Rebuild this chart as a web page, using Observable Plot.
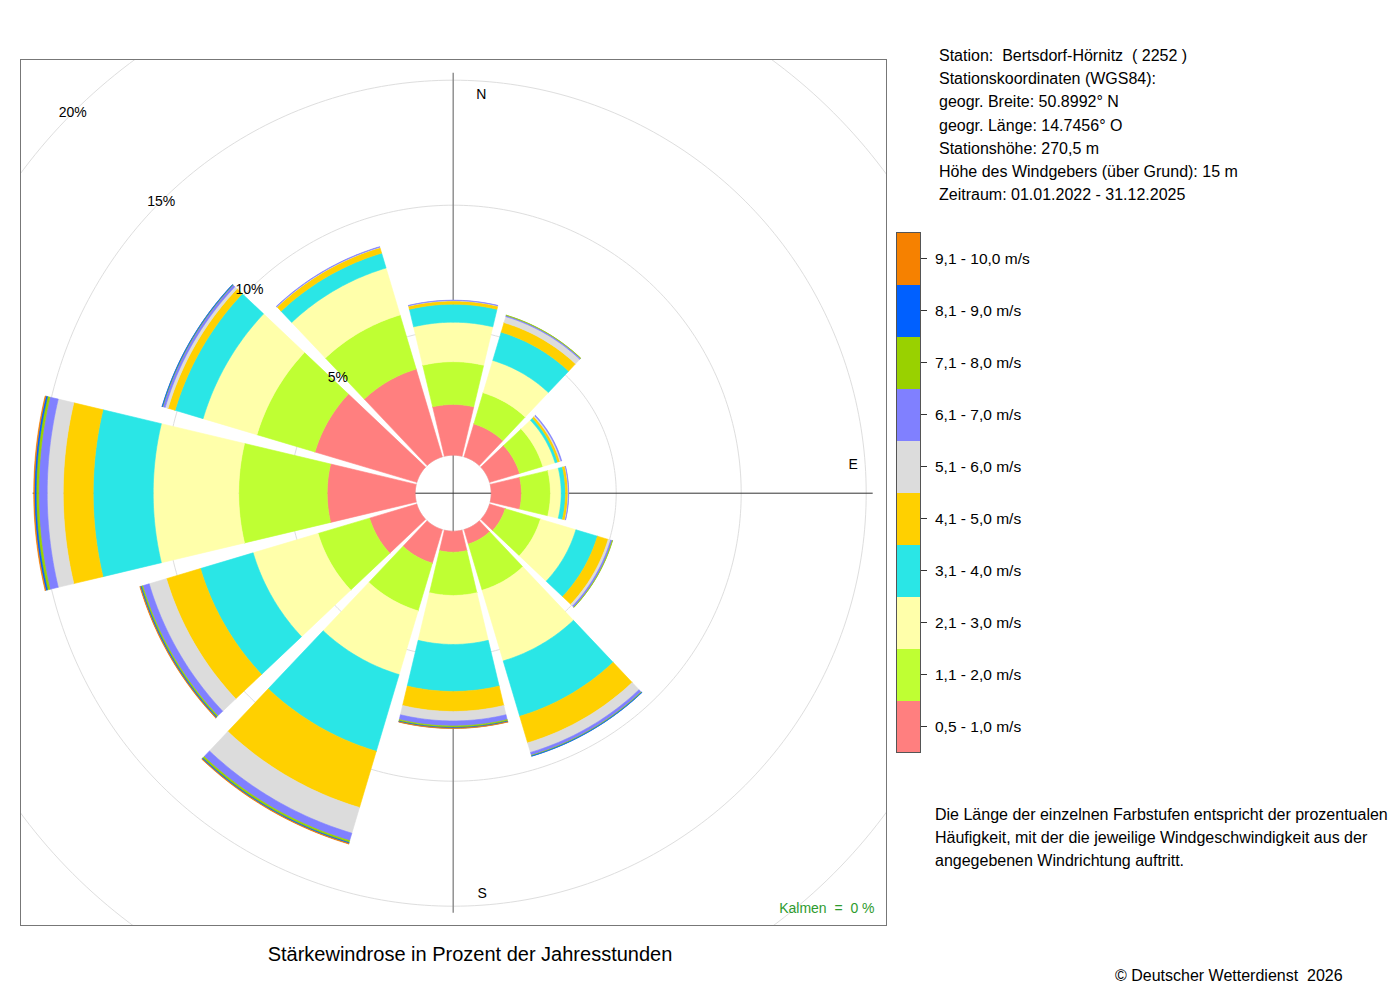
<!DOCTYPE html>
<html>
<head>
<meta charset="utf-8">
<script src="https://cdn.jsdelivr.net/npm/d3@7"></script>
<script src="https://cdn.jsdelivr.net/npm/@observablehq/plot@0.6"></script>
<style>
  body { margin: 0; background: #fff; font-family: "Liberation Sans", Arial, Helvetica, sans-serif; color: #000; }
  #page { position: relative; width: 1400px; height: 1000px; overflow: hidden; background: #fff; }
  #chart { position: absolute; left: 20px; top: 59px; }
  .abs { position: absolute; white-space: pre; }
  .info { font-size: 16px; line-height: 23.2px; }
</style>
</head>
<body>
<div id="page"><div id="chart"></div></div>
<script>
// ---------- data ----------
const directions = [0, 30, 60, 90, 120, 150, 180, 210, 240, 270, 300, 330]; // sector centres (deg)
const classes = ["0,5 - 1,0 m/s", "1,1 - 2,0 m/s", "2,1 - 3,0 m/s", "3,1 - 4,0 m/s", "4,1 - 5,0 m/s",
                 "5,1 - 6,0 m/s", "6,1 - 7,0 m/s", "7,1 - 8,0 m/s", "8,1 - 9,0 m/s", "9,1 - 10,0 m/s"];
const colors = ["#FF7F7F", "#BFFF33", "#FFFFAA", "#2AE6E6", "#FFD000",
                "#DCDCDC", "#8080FF", "#99D100", "#0060FF", "#F68100"];
// share of the year's hours (%) per direction, one array per speed class
const v05_10  = [2.03, 1.37, 1.25, 1.21, 0.65, 0.60, 0.84, 1.40, 1.97, 3.52, 4.25, 3.66];
const v11_20  = [1.71, 1.30, 0.97, 1.16, 1.47, 1.93, 1.73, 1.99, 2.15, 3.54, 2.42, 2.26];
const v21_30  = [1.58, 1.35, 0.51, 0.43, 1.48, 2.95, 1.96, 2.66, 2.71, 3.42, 2.25, 1.96];
const v31_40  = [0.72, 1.18, 0.11, 0.17, 0.90, 2.31, 1.88, 3.20, 2.20, 2.40, 1.17, 0.62];
const v41_50  = [0.13, 0.40, 0.09, 0.10, 0.45, 1.11, 0.80, 2.35, 1.42, 1.20, 0.29, 0.23];
const v51_60  = [0.02, 0.25, 0.05, 0.02, 0.10, 0.40, 0.38, 1.07, 0.72, 0.64, 0.12, 0.02];
const v61_70  = [0.01, 0.05, 0.03, 0.01, 0.07, 0.12, 0.20, 0.31, 0.27, 0.34, 0.10, 0.02];
const v71_80  = [0.00, 0.01, 0.00, 0.00, 0.01, 0.03, 0.06, 0.08, 0.06, 0.10, 0.02, 0.00];
const v81_90  = [0.00, 0.00, 0.00, 0.00, 0.00, 0.01, 0.03, 0.04, 0.04, 0.07, 0.01, 0.00];
const v91_100 = [0.00, 0.00, 0.00, 0.00, 0.00, 0.00, 0.01, 0.02, 0.02, 0.03, 0.00, 0.00];
const series = [v05_10, v11_20, v21_30, v31_40, v41_50, v51_60, v61_70, v71_80, v81_90, v91_100];
const ringValues = [5, 10, 15, 20];
const ringLabels = ["5%", "10%", "15%", "20%"];
const compass = [
  {label: "N", angle: 0,   dx: 28, dy: 1},
  {label: "E", angle: 90,  dx: 0,  dy: -29},
  {label: "S", angle: 180, dx: 29, dy: 0}
];
const calmText = "Kalmen\u00a0\u00a0=\u00a0\u00a00 %";
const infoLines = ["Station:  Bertsdorf-Hörnitz  ( 2252 )", "Stationskoordinaten (WGS84):",
  "geogr. Breite: 50.8992° N", "geogr. Länge: 14.7456° O", "Stationshöhe: 270,5 m",
  "Höhe des Windgebers (über Grund): 15 m", "Zeitraum: 01.01.2022 - 31.12.2025"];
const noteLines = ["Die Länge der einzelnen Farbstufen entspricht der prozentualen",
  "Häufigkeit, mit der die jeweilige Windgeschwindigkeit aus der",
  "angegebenen Windrichtung auftritt."];
const title = "Stärkewindrose in Prozent der Jahresstunden";
const copyright = "© Deutscher Wetterdienst  2026";

// ---------- geometry (in % units, origin at the rose centre) ----------
const hole = 1.52;      // radius of the calm circle, in % units
const halfWidth = 13.4; // half opening of a sector, deg
const rad = Math.PI / 180;
const pt = (r, deg) => ({x: r * Math.sin(deg * rad), y: r * Math.cos(deg * rad)});

const barPts = [];
directions.forEach((dir, i) => {
  let cum = 0;
  series.forEach((s, k) => {
    const v = s[i];
    if (v <= 0) return;
    const r0 = hole + cum, r1 = hole + cum + v;
    const id = i + "-" + k;
    const n = 30;
    const poly = [];
    for (let j = 0; j <= n; j++) poly.push(pt(r1, dir - halfWidth + 2 * halfWidth * j / n));
    for (let j = n; j >= 0; j--) poly.push(pt(r0, dir - halfWidth + 2 * halfWidth * j / n));
    poly.push(poly[0]);
    poly.forEach(p => barPts.push({...p, id, cls: classes[k]}));
    cum += v;
  });
});

const gridPts = [];
[0, ...ringValues].forEach(v => {
  for (let a = 0; a <= 360; a += 1) gridPts.push({...pt(hole + v, a), ring: v});
});
const ringLabelData = ringValues.map((v, i) => ({...pt(hole + v, 315), label: ringLabels[i]}));

// ---------- chart ----------
const chart = Plot.plot({
  width: 867, height: 867,
  marginTop: 0, marginLeft: 0, marginRight: 1, marginBottom: 1,
  x: {domain: [-17.308, 17.332], axis: null},
  y: {domain: [-17.292, 17.348], axis: null},
  color: {domain: classes, range: colors},
  style: {fontFamily: "Liberation Sans, Arial, sans-serif", fontSize: "14px", background: "transparent", overflow: "hidden"},
  marks: [
    Plot.line(gridPts, {x: "x", y: "y", z: "ring", stroke: "#dedede", strokeWidth: 1, clip: true}),
    Plot.ruleX([0], {y1: -16.8, y2: 16.8, stroke: "#8a8a8a", strokeWidth: 1.4}),
    Plot.ruleY([0], {x1: -16.8, x2: 16.8, stroke: "#333", strokeWidth: 1}),
    Plot.line(barPts, {x: "x", y: "y", z: "id", fill: "cls", stroke: "cls", strokeWidth: 0.6, strokeLinejoin: "miter"}),
    Plot.text(ringLabelData, {x: "x", y: "y", text: "label", fill: "#000", fontSize: 14}),
    ...compass.map(c => Plot.text([c], {x: d => 16 * Math.sin(d.angle * rad), y: d => 16 * Math.cos(d.angle * rad),
      text: "label", dx: c.dx, dy: c.dy, fill: "#000", fontSize: 14})),
    Plot.text([calmText], {frameAnchor: "bottom-right", textAnchor: "end", lineAnchor: "middle", dx: -12, dy: -17, fill: "#2e9b2e", fontSize: 14}),
    Plot.frame({stroke: "#777"})
  ]
});
document.getElementById("chart").appendChild(chart);

// ---------- texts and legend ----------
const page = document.getElementById("page");
function addDiv(text, css, cls) {
  const d = document.createElement("div");
  d.className = "abs" + (cls ? " " + cls : "");
  d.textContent = text;
  Object.assign(d.style, css);
  page.appendChild(d);
  return d;
}
addDiv(infoLines.join("\n"), {left: "939px", top: "44px"}, "info");
addDiv(noteLines.join("\n"), {left: "935px", top: "803px", lineHeight: "23px", fontSize: "16px"});
addDiv(copyright, {left: "1115px", top: "967px", fontSize: "16px"});
addDiv(title, {left: "20px", top: "942px", width: "900px", textAlign: "center", fontSize: "20px", lineHeight: "24px"});

// legend: colour column (top = fastest class)
const cellH = 52, legTop = 232, legLeft = 896;
const box = document.createElement("div");
Object.assign(box.style, {position: "absolute", left: legLeft + "px", top: legTop + "px", width: "25px",
  height: (cellH * classes.length + 1) + "px", border: "1px solid #555", boxSizing: "border-box", overflow: "hidden"});
page.appendChild(box);
const rev = classes.map((c, i) => i).reverse();
rev.forEach((k, j) => {
  const cell = document.createElement("div");
  Object.assign(cell.style, {height: cellH + "px", background: colors[k]});
  box.appendChild(cell);
  const tick = document.createElement("div");
  Object.assign(tick.style, {position: "absolute", left: (legLeft + 25) + "px", top: (legTop + j * cellH + cellH / 2) + "px",
    width: "6px", height: "1px", background: "#333"});
  page.appendChild(tick);
  addDiv(classes[k], {left: "935px", top: (legTop + j * cellH + 1) + "px", height: cellH + "px", lineHeight: cellH + "px", fontSize: "15.5px"});
});
</script>
</body>
</html>
